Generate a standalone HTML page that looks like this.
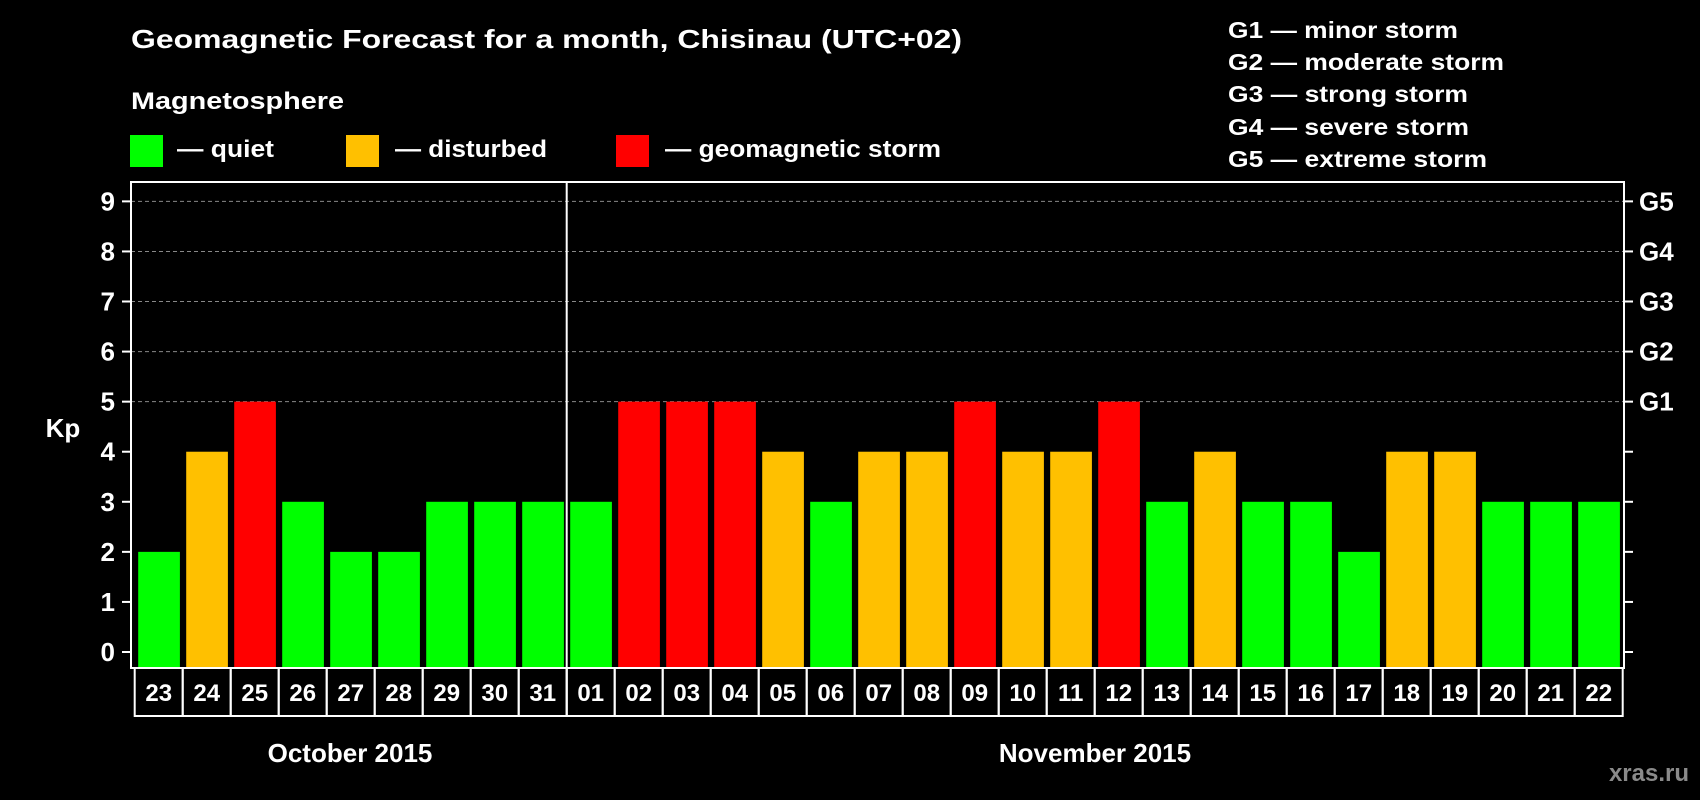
<!DOCTYPE html>
<html><head><meta charset="utf-8"><style>
html,body{margin:0;padding:0;background:#000;}
svg{display:block;font-family:"Liberation Sans",Arial,sans-serif;font-weight:bold;}
</style></head><body>
<svg id="chart" width="1700" height="800" viewBox="0 0 1700 800" xmlns="http://www.w3.org/2000/svg">
<rect width="1700" height="800" fill="#000"/>
<text x="131" y="48" fill="#fff" font-size="26" textLength="831" lengthAdjust="spacingAndGlyphs">Geomagnetic Forecast for a month, Chisinau (UTC+02)</text>
<text x="131" y="109" fill="#fff" font-size="24" textLength="213" lengthAdjust="spacingAndGlyphs">Magnetosphere</text>
<rect x="130" y="135" width="33" height="32" fill="#00ff00"/>
<text x="177" y="157" fill="#fff" font-size="24" textLength="97" lengthAdjust="spacingAndGlyphs">— quiet</text>
<rect x="346" y="135" width="33" height="32" fill="#ffc000"/>
<text x="395" y="157" fill="#fff" font-size="24" textLength="152" lengthAdjust="spacingAndGlyphs">— disturbed</text>
<rect x="616" y="135" width="33" height="32" fill="#ff0000"/>
<text x="665" y="157" fill="#fff" font-size="24" textLength="276" lengthAdjust="spacingAndGlyphs">— geomagnetic storm</text>
<g fill="#fff" font-size="23">
<text x="1228" y="38" textLength="230" lengthAdjust="spacingAndGlyphs">G1 — minor storm</text>
<text x="1228" y="70" textLength="276" lengthAdjust="spacingAndGlyphs">G2 — moderate storm</text>
<text x="1228" y="102" textLength="240" lengthAdjust="spacingAndGlyphs">G3 — strong storm</text>
<text x="1228" y="135" textLength="241" lengthAdjust="spacingAndGlyphs">G4 — severe storm</text>
<text x="1228" y="167" textLength="259" lengthAdjust="spacingAndGlyphs">G5 — extreme storm</text>
</g>
<g id="grid"></g><g id="bars"></g><g id="axes"></g>
<text x="63" y="437" fill="#fff" font-size="26" text-anchor="middle">Kp</text>
<text x="350" y="762" fill="#fff" font-size="26" text-anchor="middle">October 2015</text>
<text x="1095" y="762" fill="#fff" font-size="26" text-anchor="middle">November 2015</text>
<text x="1689" y="781" fill="#8a8a8a" font-size="24" text-anchor="end">xras.ru</text>
</svg>
<script>
const days = ["23","24","25","26","27","28","29","30","31","01","02","03","04","05","06","07","08","09","10","11","12","13","14","15","16","17","18","19","20","21","22"];
const kpValues = [2,4,5,3,2,2,3,3,3,3,5,5,5,4,3,4,4,5,4,4,5,3,4,3,3,2,4,4,3,3,3];
const yTicks = [0,1,2,3,4,5,6,7,8,9];
const gLabels = ["","","","","","G1","G2","G3","G4","G5"];
const NS="http://www.w3.org/2000/svg";
const plotL=131, plotR=1624, plotT=182, plotB=668, cellL=134.7, cellW=48, boxB=716;
const y=v=>652-v*50.07;
const xCell=i=>cellL+i*cellW;
function mk(tag,attrs,parent){const e=document.createElementNS(NS,tag);for(const k in attrs)e.setAttribute(k,attrs[k]);parent.appendChild(e);return e;}
const grid=document.getElementById('grid'),bars=document.getElementById('bars'),axes=document.getElementById('axes');
yTicks.forEach(t=>{
  if(t>=5){const g=mk('line',{x1:plotL,x2:plotR,y1:y(t),y2:y(t),stroke:'#888','stroke-dasharray':'4,3','stroke-width':1},grid);
  
  }
  const tl=mk('line',{x1:plotL-9,x2:plotL,y1:y(t),y2:y(t),stroke:'#fff','stroke-width':2},axes);
  
  
  const tr=mk('line',{x1:plotR,x2:plotR+9,y1:y(t),y2:y(t),stroke:'#fff','stroke-width':2},axes);
  
  
  const lb=mk('text',{x:115,y:y(t)+9,fill:'#fff','font-size':26,'text-anchor':'end'},axes);lb.textContent=t;
  
  
  if(gLabels[t]){const gl=mk('text',{x:1639,y:y(t)+9,fill:'#fff','font-size':26},axes);gl.textContent=gLabels[t];
  
  }
});
kpValues.forEach((v,i)=>{
  const c=v>=5?'#ff0000':(v>=4?'#ffc000':'#00ff00');
  const b=mk('rect',{x:xCell(i)+3.5,y:y(v),width:41.7,height:plotB-y(v),fill:c},bars);
  
  
  const bx=mk('rect',{x:xCell(i),y:plotB,width:cellW,height:boxB-plotB,fill:'none',stroke:'#fff','stroke-width':2},axes);
  
  
  const t=mk('text',{x:xCell(i)+cellW/2,y:701,fill:'#fff','font-size':24,'text-anchor':'middle'},axes);t.textContent=days[i];
  
  
});
const fr=mk('rect',{x:plotL,y:plotT,width:plotR-plotL,height:plotB-plotT,fill:'none',stroke:'#fff','stroke-width':2},axes);


const sep=mk('line',{x1:xCell(9),x2:xCell(9),y1:plotT,y2:boxB,stroke:'#fff','stroke-width':2},axes);


</script>
</body></html>
